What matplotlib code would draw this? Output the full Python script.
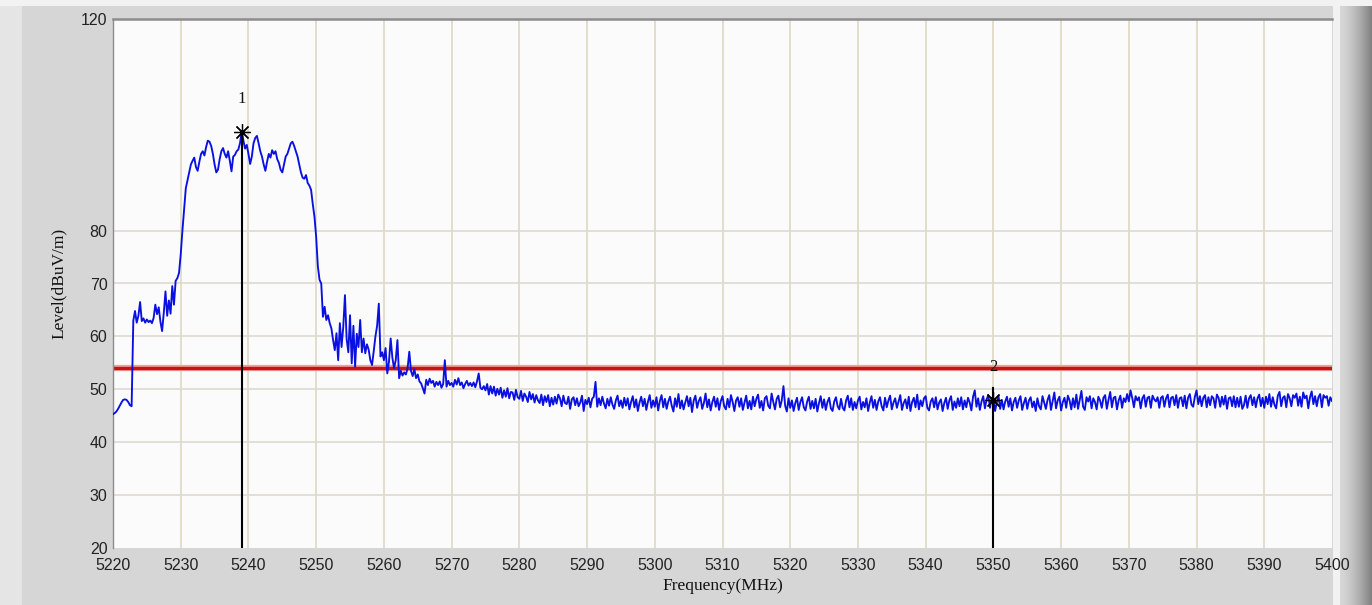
import numpy as np
import matplotlib
matplotlib.use('Agg')
import matplotlib.pyplot as plt

# ---------------- data ----------------
freq_start = 5220.0
freq_stop = 5400.0

# trace level (dBuV/m), 4 points per MHz, 5220.00 ... 5400.00
level_head = [
    45.3, 45.5, 45.8, 46.3,  46.9, 47.5, 48.0, 48.1,  48.0, 47.6, 47.0, 46.8,  # 5220-5222
    63.0, 64.8, 62.6, 63.9,  66.5, 62.9, 63.4, 62.6,  63.2, 62.7, 63.0, 62.5,  # 5223-5225
    63.5, 66.0, 64.2, 65.5,  62.8, 61.0, 64.5, 68.5,  63.9, 66.8, 64.3, 69.5,  # 5226-5228
    66.0, 70.5, 71.0, 72.0,  75.5, 80.0, 84.0, 88.0,  89.5, 91.0, 92.5, 93.2,  # 5229-5231
    93.8, 92.0, 91.3, 93.0,  94.5, 95.0, 94.2, 95.8,  97.0, 96.8, 96.0, 94.5,  # 5232-5234
    92.5, 91.0, 91.5, 93.5,  95.0, 95.6, 94.5, 93.8,  95.0, 93.2, 91.2, 94.0,  # 5235-5237
    94.3, 95.0, 95.3, 96.5,  98.6, 97.0, 95.5, 96.2,  94.5, 92.6, 94.0, 96.5,  # 5238-5240
    97.5, 97.9, 96.5, 95.0,  94.0, 92.5, 91.3, 93.0,  94.5, 93.8, 95.2, 94.5,  # 5241-5243
    95.0, 93.5, 92.8, 91.5,  91.0, 92.5, 94.0, 94.5,  95.5, 96.5, 96.8, 96.0,  # 5244-5246
    95.0, 94.0, 92.5, 91.0,  90.0, 89.8, 90.5, 89.0,  88.5, 87.7, 85.0, 82.6,  # 5247-5249
    78.8, 73.2, 70.7, 70.0,  63.7, 65.6, 63.1, 64.0,  62.5, 61.5, 59.3, 57.4,  # 5250-5252
    60.6, 55.5, 62.5, 58.0,  61.8, 67.8, 59.5, 57.0,  64.0, 54.9, 62.0, 54.3,  # 5253-5255
    60.5, 58.0, 63.1, 57.0,  59.6, 56.8, 58.5, 57.5,  55.5, 54.6, 57.2, 60.0,  # 5256-5258
    62.0, 66.2, 56.2, 57.0,  55.5, 57.8, 53.0, 55.2,  59.6, 56.0, 54.0, 55.5,  # 5259-5261
    59.3, 52.1, 53.5, 52.6,  53.2, 52.8, 54.0, 57.1,  53.5, 52.5, 53.8, 52.1,  # 5262-5264
    52.8, 51.5, 51.1, 50.2,  49.2, 51.8, 50.8, 52.0,  51.2, 51.6, 50.5, 51.4,  # 5265-5267
    50.8, 51.5, 50.3, 51.0,  55.5, 50.5, 51.6, 50.8,  51.2, 50.5, 51.8, 50.9,  # 5268-5270
    52.1, 50.8, 51.3, 50.2,  51.0, 51.6, 50.7, 51.2,  50.6, 51.3, 50.4, 51.5,  # 5271-5273
    53.0, 50.3, 50.0, 50.6,  49.8, 51.0, 49.0, 50.6,  49.2, 50.5, 48.8, 50.1,  # 5274-5276
    49.0, 50.3, 48.4, 49.8,  48.6, 50.2, 48.3, 49.5,  49.4, 48.0, 49.9, 48.5,  # 5277-5279
    48.2, 49.7, 47.8, 49.2,  48.6, 47.6, 49.5, 48.1,  49.1, 47.5, 48.9, 47.9,  # 5280-5282
    47.4, 49.0, 47.0, 48.7,  47.6, 48.9, 46.8, 48.4,  47.1, 48.6, 47.3, 49.0,  # 5283-5285
    48.3, 46.8, 48.8, 47.4,  47.2, 48.6, 46.3, 48.1,  48.5, 47.0, 48.3, 46.8,  # 5286-5288
    47.5, 48.8, 45.9, 48.0,  47.2, 48.4, 46.6, 48.2,  48.6, 51.4, 46.7, 48.3,  # 5289-5291
    47.0, 48.6, 47.3, 46.4,  48.2, 46.9, 48.5, 47.1,  46.3, 47.9, 48.8, 46.8,  # 5292-5294
]
level_tail = [
    47.9, 46.5, 48.4, 46.9, 48.3, 46.2, 47.6, 48.7, 46.6, 48.1, 45.9, 47.5, 48.6, 46.8, 48.2, 46.1, 47.7, 48.9, 46.5, 47.9,  # 5295
    46.7, 48.5, 46.0, 47.8, 48.9, 46.6, 48.2, 46.3, 47.7, 48.6, 46.9, 45.8, 48.3, 46.7, 49.1, 46.4, 47.9, 46.2, 47.5, 48.7,  # 5300
    46.8, 48.4, 45.7, 47.9, 48.8, 46.5, 47.8, 48.5, 46.3, 47.4, 49.2, 46.6, 48.1, 46.0, 47.6, 48.6, 46.7, 48.3, 46.1, 47.8,  # 5305
    48.7, 46.8, 46.2, 48.2, 46.6, 48.9, 47.6, 45.9, 47.9, 48.5, 46.7, 48.3, 46.1, 47.5, 48.8, 46.4, 47.8, 46.2, 48.6, 46.8,  # 5310
    48.2, 49.0, 46.5, 47.8, 46.0, 48.3, 48.7, 46.9, 46.4, 49.2, 47.6, 46.2, 48.2, 48.8, 46.6, 47.9, 50.6, 46.9, 45.8, 48.3,  # 5315
    46.5, 47.9, 45.9, 47.4, 48.4, 46.1, 47.6, 48.5, 46.6, 46.0, 47.7, 48.6, 46.3, 47.8, 46.4, 48.2, 45.8, 47.4, 48.7, 46.5,  # 5320
    48.1, 46.1, 47.6, 48.4, 46.4, 45.9, 47.7, 48.5, 46.8, 46.2, 48.2, 46.5, 46.0, 47.9, 48.8, 46.6, 48.3, 46.1, 47.6, 46.4,  # 5325
    47.9, 48.6, 46.2, 47.6, 46.6, 48.3, 45.9, 47.5, 48.7, 46.5, 48.0, 46.1, 47.7, 48.5, 46.8, 46.0, 48.4, 46.6, 47.9, 48.8,  # 5330
    46.2, 47.5, 48.3, 46.5, 47.7, 48.9, 46.1, 47.4, 48.1, 46.4, 48.6, 45.9, 47.6, 48.4, 46.6, 49.0, 46.2, 47.9, 46.8, 48.3,  # 5335
    48.7, 46.5, 46.0, 47.7, 48.3, 46.6, 48.5, 46.2, 47.5, 48.1, 45.9, 47.4, 48.4, 46.3, 47.9, 48.7, 46.1, 47.7, 46.5, 48.3,  # 5340
    46.8, 48.5, 46.2, 47.9, 46.6, 48.4, 47.5, 46.0, 48.6, 49.8, 46.7, 48.3, 46.1, 47.7, 48.7, 46.4, 48.1, 48.9, 46.5, 48.4,  # 5345
    48.2, 45.9, 47.5, 48.8, 46.3, 48.0, 46.2, 47.7, 48.6, 46.7, 48.3, 46.0, 47.6, 48.4, 46.5, 47.9, 48.7, 46.1, 47.4, 48.4,  # 5350
    46.3, 47.9, 48.5, 46.6, 47.7, 45.9, 48.3, 46.8, 46.2, 48.7, 47.5, 46.3, 48.0, 48.9, 46.1, 47.7, 49.4, 46.4, 47.9, 48.6,  # 5355
    46.0, 47.6, 48.4, 46.5, 48.8, 47.9, 46.2, 48.3, 46.6, 49.0, 46.3, 48.0, 49.7, 46.7, 46.1, 48.5, 47.7, 48.7, 46.4, 48.3,  # 5360
    47.6, 46.2, 48.6, 47.9, 46.5, 48.4, 48.9, 46.3, 48.0, 49.5, 46.6, 48.4, 48.6, 46.2, 47.9, 48.8, 46.5, 48.3, 47.6, 49.1,  # 5365
    47.7, 49.8, 48.4, 46.6, 48.7, 47.9, 48.5, 46.4, 48.3, 48.9, 46.7, 48.4, 48.6, 46.5, 48.8, 48.1, 47.7, 48.5, 46.5, 48.4,  # 5370
    48.7, 46.7, 48.3, 49.0, 46.6, 48.4, 48.6, 47.0, 48.9, 46.5, 48.3, 48.5, 46.8, 48.8, 46.4, 48.4, 49.1, 47.1, 46.7, 48.6,  # 5375
    49.8, 47.2, 48.7, 46.8, 48.4, 48.9, 46.6, 48.5, 47.0, 48.7, 48.3, 46.5, 49.0, 48.4, 46.7, 48.6, 47.1, 48.8, 46.3, 48.3,  # 5380
    48.5, 46.8, 48.7, 46.6, 48.4, 46.7, 48.6, 46.3, 47.0, 48.8, 46.5, 48.3, 48.9, 47.0, 48.5, 46.6, 48.3, 49.0, 46.8, 48.4,  # 5385
    46.5, 48.6, 47.2, 49.1, 46.7, 48.5, 47.1, 46.4, 48.8, 49.5, 46.8, 48.4, 48.7, 46.6, 49.1, 48.3, 46.8, 48.9, 48.4, 49.2,  # 5390
    46.9, 48.6, 46.7, 49.4, 48.3, 48.8, 46.4, 48.5, 49.6, 47.2, 48.7, 46.8, 48.5, 49.1, 46.6, 48.9, 48.4, 48.7, 46.9, 48.5,  # 5395
    47.8,  # 5400
]
level = level_head + level_tail

limit_level = 54.1
marker_freqs = [5239.0, 5350.0]
marker_levels = [98.6, 48.0]
marker_line_tops = [98.6, 50.2]
marker_labels = ['1', '2']
label_offset_db = 6.2

x_ticks = [5220, 5230, 5240, 5250, 5260, 5270, 5280, 5290, 5300, 5310,
           5320, 5330, 5340, 5350, 5360, 5370, 5380, 5390, 5400]
y_ticks = [20, 30, 40, 50, 60, 70, 80, 120]
y_grid = [30, 40, 50, 60, 70, 80]

# ---------------- figure ----------------
W, H = 1372, 605
fig = plt.figure(figsize=(W / 100, H / 100), dpi=100)
fig.patch.set_facecolor('#d6d6d6')

# background shading (window frame look)
bg = fig.add_axes([0, 0, 1, 1], zorder=-10)
bg.set_axis_off()
grad = np.ones((10, W, 3)) * (214 / 255)
cols = np.arange(W)
left = cols < 22
grad[:, left, :] = 0.90
right = cols >= 1340
t = (cols[right] - 1340) / (W - 1340)
grad[:, right, :] = ((0.84 - 0.35 * t ** 1.5))[None, :, None]
grad[:, (cols >= 1333) & (cols < 1340), :] = 0.95
bg.imshow(grad, aspect='auto', extent=[0, 1, 0, 1])
bg.set_xlim(0, 1)
bg.set_ylim(0, 1)
bg.axhspan(1 - 6 / H, 1, color='#f2f2f2', lw=0)

ax = fig.add_axes([113 / W, 1 - 548 / H, (1332 - 113) / W, (548 - 19) / H])
ax.set_facecolor('#fbfbfb')

freq = np.linspace(freq_start, freq_stop, len(level))

# grid
for xv in x_ticks[1:-1]:
    ax.axvline(xv, color='#dcd9c4', lw=1.2, zorder=1)
for yv in y_grid:
    ax.axhline(yv, color='#dcdad0', lw=1.2, zorder=1)

# limit line
ax.axhline(limit_level, color='#f0a0a0', lw=4.5, zorder=2)
ax.axhline(limit_level, color='#c41414', lw=2.4, zorder=2)

# trace
ax.plot(freq, level, color='#0a10e0', lw=1.35, zorder=3)

# markers
for f, lv, top, lab in zip(marker_freqs, marker_levels, marker_line_tops, marker_labels):
    ax.plot([f, f], [20, top], color='black', lw=1.5, zorder=4)
    ax.plot([f], [lv], marker=(8, 2, 0), ms=12, mew=0.9, color='black', zorder=5)
    ax.text(f, lv + label_offset_db, lab, ha='center', va='center',
            fontsize=12, family='Liberation Serif', color='#111111', zorder=6)

ax.set_xlim(freq_start, freq_stop)
ax.set_ylim(20, 120)
ax.set_xticks(x_ticks)
ax.set_yticks(y_ticks)
ax.set_xticklabels([str(v) for v in x_ticks], family='Liberation Sans', fontsize=11.5, color='#222222')
ax.set_yticklabels([str(v) for v in y_ticks], family='Liberation Sans', fontsize=11.5, color='#222222')
ax.tick_params(axis='both', length=0)
ax.tick_params(axis='x', pad=7)
ax.tick_params(axis='y', pad=4)

for s in ['right', 'bottom']:
    ax.spines[s].set_visible(False)
ax.spines['top'].set_color('#8c8c8c')
ax.spines['top'].set_linewidth(1.8)
ax.spines['left'].set_color('#8c8c8c')
ax.spines['left'].set_linewidth(1.0)

ax.set_xlabel('Frequency(MHz)', family='Liberation Serif', fontsize=12.5, color='#111111', labelpad=4)
ax.set_ylabel('Level(dBuV/m)', family='Liberation Serif', fontsize=12.5, color='#111111', labelpad=10)

fig.savefig('out.png', dpi=100, facecolor=fig.get_facecolor())
